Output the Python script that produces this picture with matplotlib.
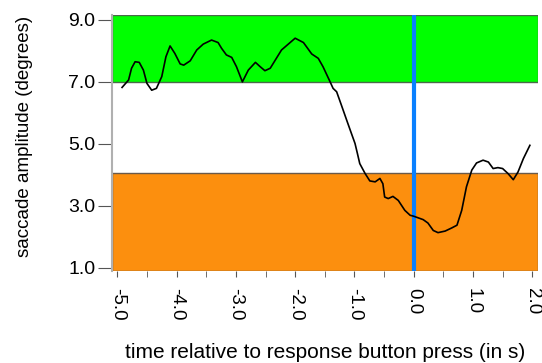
import matplotlib
matplotlib.use("Agg")
from matplotlib import pyplot as plt
from matplotlib.ticker import MultipleLocator

# values
time_s = [-4.92, -4.81, -4.76, -4.70, -4.63, -4.56, -4.50, -4.42, -4.34, -4.25,
          -4.18, -4.11, -4.03, -3.94, -3.88, -3.77, -3.66, -3.55, -3.41, -3.30,
          -3.24, -3.16, -3.07, -2.99, -2.89, -2.79, -2.67, -2.59, -2.51, -2.42,
          -2.23, -2.00, -1.86, -1.72, -1.61, -1.53, -1.41, -1.36, -1.30, -1.22,
          -1.13, -1.05, -0.99, -0.95, -0.91, -0.82, -0.74, -0.65, -0.57, -0.52,
          -0.49, -0.43, -0.35, -0.26, -0.15, -0.06, 0.00, 0.16, 0.24, 0.33,
          0.41, 0.53, 0.64, 0.73, 0.81, 0.89, 0.98, 1.06, 1.17, 1.26,
          1.34, 1.42, 1.50, 1.59, 1.68, 1.76, 1.85, 1.96]
amplitude = [6.82, 7.06, 7.44, 7.65, 7.63, 7.38, 6.95, 6.73, 6.79, 7.17,
             7.81, 8.16, 7.92, 7.58, 7.54, 7.68, 8.03, 8.22, 8.35, 8.27,
             8.08, 7.87, 7.79, 7.49, 7.00, 7.38, 7.63, 7.49, 7.36, 7.44,
             8.03, 8.41, 8.27, 7.90, 7.76, 7.49, 7.00, 6.79, 6.68, 6.25,
             5.76, 5.33, 5.01, 4.69, 4.36, 4.04, 3.80, 3.77, 3.88, 3.71,
             3.28, 3.23, 3.30, 3.17, 2.85, 2.69, 2.66, 2.55, 2.44, 2.20,
             2.13, 2.18, 2.28, 2.37, 2.85, 3.61, 4.15, 4.38, 4.47, 4.41,
             4.20, 4.23, 4.20, 4.04, 3.84, 4.09, 4.52, 4.95]

high_band = (7.0, 9.16)
low_band = (0.89, 4.04)
button_press = 0.0
xticks = [-5.0, -4.0, -3.0, -2.0, -1.0, 0.0, 1.0, 2.0]
yticks = [1.0, 3.0, 5.0, 7.0, 9.0]

plt.rcParams['font.family'] = ['Liberation Sans', 'DejaVu Sans']

fig = plt.figure(figsize=(5.42, 3.63), dpi=100)
ax = fig.add_axes([0.2066, 0.2534, 0.7869, 0.7053])

ax.axhspan(*high_band, facecolor='#00FF00', edgecolor='#4a6a4a', linewidth=1.0, zorder=1)
ax.axhspan(*low_band, facecolor='#FC8F0E', edgecolor='#6a5a4a', linewidth=1.0, zorder=1)
ax.axvline(button_press, color='#0A80FF', linewidth=3.0, zorder=2)
ax.plot(time_s, amplitude, color='black', linewidth=1.2, zorder=3)

ax.set_xlim(-5.09, 2.105)
ax.set_ylim(0.89, 9.16)

ax.set_xticks(xticks)
ax.set_xticklabels(['%.1f' % t for t in xticks], rotation=270, fontsize=13.5)
ax.xaxis.set_minor_locator(MultipleLocator(0.5))
ax.set_yticks(yticks)
ax.set_yticklabels(['%.1f' % v for v in yticks], fontsize=14)

ax.tick_params(axis='x', which='both', length=4, color='#555555', pad=8)
ax.tick_params(axis='y', length=10, color='#555555', pad=2)

for side in ['top', 'right', 'bottom']:
    ax.spines[side].set_visible(False)
ax.spines['left'].set_color('#b0b0b0')
ax.spines['left'].set_linewidth(1.5)

ax.set_xlabel('time relative to response button press (in s)', fontsize=15, labelpad=16)
ax.set_ylabel('saccade amplitude (degrees)', fontsize=13.5)
ax.yaxis.set_label_coords(-0.185, 0.525)

fig.savefig('out.png', dpi=100)
